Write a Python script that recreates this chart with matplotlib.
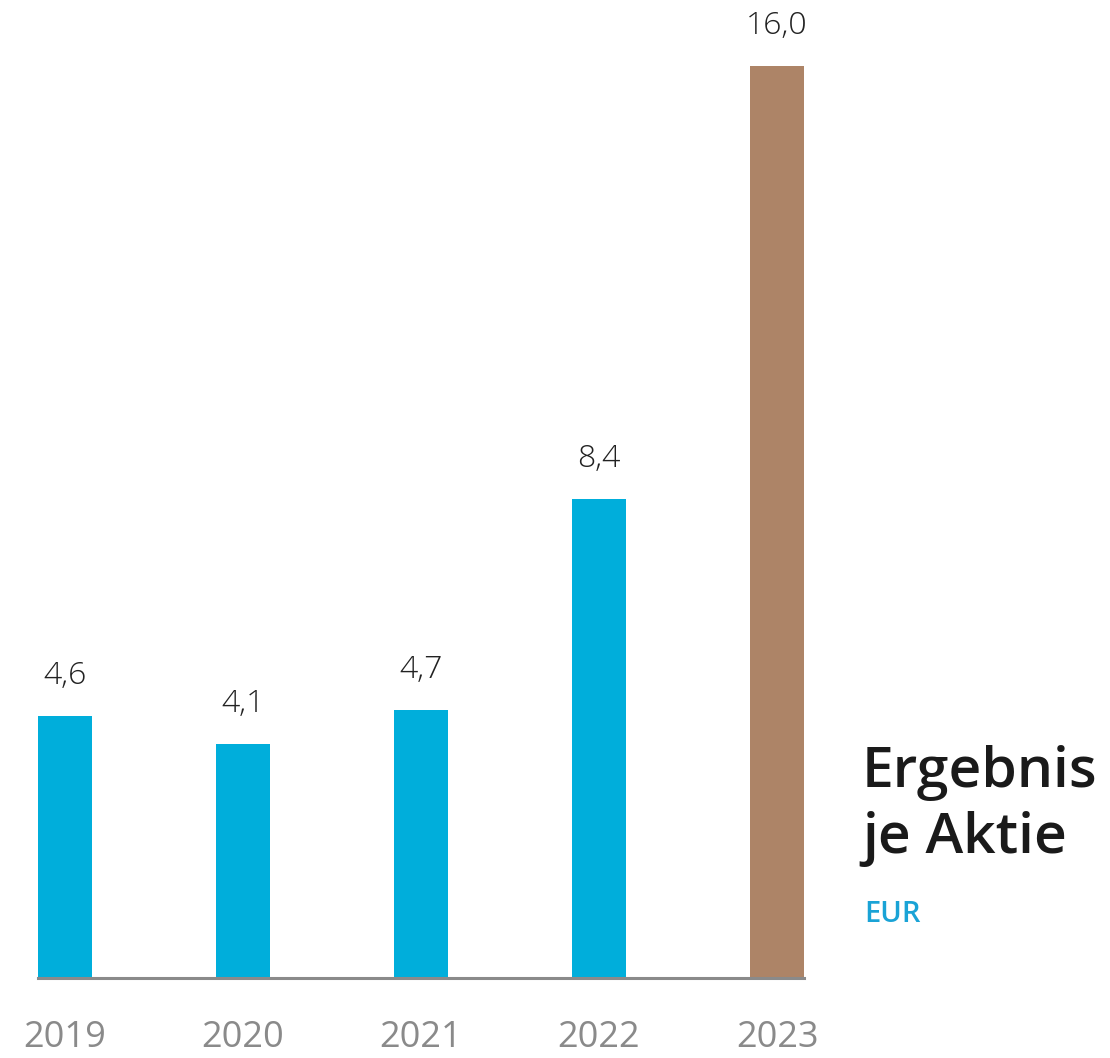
import numpy as np
import matplotlib.pyplot as plt

years = ["2019", "2020", "2021", "2022", "2023"]
values = [4.6, 4.1, 4.7, 8.4, 16.0]
labels = ["4,6", "4,1", "4,7", "8,4", "16,0"]
colors = ["#00AEDB", "#00AEDB", "#00AEDB", "#00AEDB", "#AD8467"]

plt.rcParams["font.family"] = ["Open Sans", "DejaVu Sans"]

fig = plt.figure(figsize=(11.1, 10.58), dpi=100)
ax = fig.add_axes([38 / 1110, 80 / 1058, 766 / 1110, 912 / 1058])

x = np.arange(len(years))
w = 0.303
ax.bar(x, values, width=w, color=colors, zorder=2)

ax.set_xlim(-w / 2, len(years) - 1 + w / 2)
ax.set_ylim(0, 16)

# value labels above bars
for xi, v, lab in zip(x, values, labels):
    ax.text(xi, v + 0.42, lab, ha="center", va="bottom", fontsize=23,
            fontweight="light", color="#222222")

ax.axhline(0, color="#8a8a8a", lw=2.2, zorder=3, clip_on=False)

ax.set_xticks(x)
ax.set_xticklabels(years)
ax.tick_params(axis="x", length=0, pad=30, labelsize=26, labelcolor="#8a8a8a")
ax.set_yticks([])
for s in ax.spines.values():
    s.set_visible(False)

# title block on the right
fig.text(862 / 1110, 1 - 787 / 1058, "Ergebnis", fontsize=41, color="#1a1a1a",
         fontweight="semibold", ha="left", va="baseline")
fig.text(862 / 1110, 1 - 853 / 1058, "je Aktie", fontsize=41, color="#1a1a1a",
         fontweight="semibold", ha="left", va="baseline")
fig.text(864 / 1110, 1 - 922 / 1058, "EUR", fontsize=21, color="#1AA3D6",
         fontweight="semibold", ha="left", va="baseline")

fig.savefig("out.png", dpi=100)
